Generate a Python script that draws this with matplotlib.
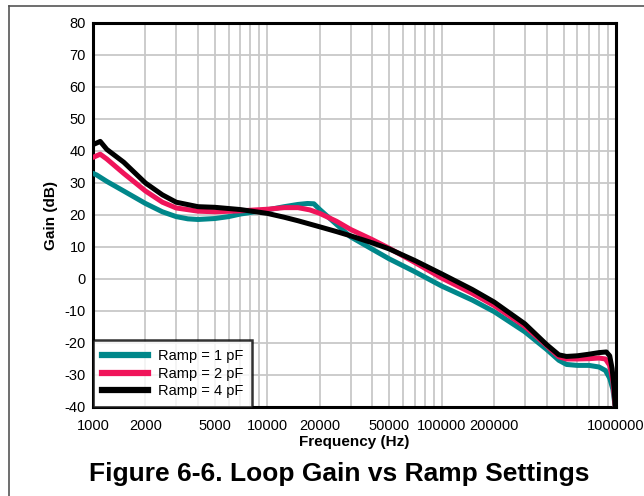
import matplotlib.pyplot as plt
from matplotlib.lines import Line2D

plt.rcParams["font.family"] = ["Liberation Sans", "DejaVu Sans"]
plt.rcParams["axes.unicode_minus"] = False

# measured loop gain, read at sample frequencies (Hz / dB)
freq_1pf = [1000, 1050, 1200, 1500, 2000, 2500, 3000, 3500, 4000, 5000, 6000, 7000,
            8500, 10000, 12500, 15000, 17000, 18500, 20000, 25000, 30000, 40000,
            50000, 70000, 100000, 150000, 200000, 300000, 400000, 470000, 520000,
            600000, 700000, 800000, 870000, 920000, 960000, 990000]
gain_1pf = [33.0, 32.5, 30.5, 27.5, 23.6, 21.0, 19.5, 18.8, 18.6, 18.9, 19.5, 20.3,
            21.0, 21.6, 22.6, 23.3, 23.6, 23.5, 21.7, 17.0, 13.2, 9.3,
            6.3, 2.3, -2.2, -6.6, -10.2, -16.5, -22.0, -25.4, -26.7,
            -27.0, -27.0, -27.5, -28.6, -31.0, -34.5, -40.0]

freq_2pf = [1000, 1100, 1200, 1500, 2000, 2500, 3000, 4000, 5000, 7000, 10000,
            12500, 15000, 17500, 20000, 25000, 30000, 40000, 50000, 70000, 100000,
            150000, 200000, 300000, 400000, 470000, 520000, 600000, 700000,
            800000, 870000, 920000, 960000, 990000]
gain_2pf = [38.0, 39.0, 37.5, 33.0, 27.5, 24.0, 22.2, 21.2, 21.0, 21.3, 21.8,
            22.3, 22.3, 21.6, 20.5, 18.0, 15.5, 12.3, 9.6, 5.2, 0.3,
            -4.5, -8.3, -14.8, -20.8, -24.3, -25.0, -25.0, -24.9,
            -24.7, -25.0, -27.0, -32.0, -40.0]

freq_4pf = [1000, 1050, 1100, 1200, 1500, 2000, 2500, 3000, 4000, 5000, 7000,
            10000, 12500, 15000, 20000, 25000, 30000, 40000, 50000, 70000, 100000,
            150000, 200000, 300000, 400000, 470000, 520000, 600000, 700000,
            800000, 880000, 920000, 950000, 975000, 990000]
gain_4pf = [42.0, 42.5, 43.0, 40.5, 36.5, 30.0, 26.3, 24.0, 22.6, 22.4, 21.7,
            20.5, 19.3, 18.2, 16.3, 14.8, 13.5, 11.3, 9.4, 5.8, 1.6,
            -3.3, -7.2, -14.0, -20.5, -23.7, -24.2, -24.0, -23.5,
            -23.0, -22.8, -24.0, -28.0, -34.0, -40.0]

x_ticks = [1000, 2000, 5000, 10000, 20000, 50000, 100000, 200000, 1000000]
y_ticks = list(range(-40, 81, 10))

series = [
    (freq_1pf, gain_1pf, "#00878a", "Ramp = 1 pF"),
    (freq_2pf, gain_2pf, "#f0145a", "Ramp = 2 pF"),
    (freq_4pf, gain_4pf, "#000000", "Ramp = 4 pF"),
]

fig = plt.figure(figsize=(6.44, 4.96), dpi=100)
ax = fig.add_axes([93 / 644, 1 - 407 / 496, (616 - 93) / 644, (407 - 23) / 496])

for f, g, c, lab in series:
    ax.plot(f, g, color=c, lw=3.6, solid_capstyle="round", solid_joinstyle="round",
            label=lab, zorder=3)

ax.set_xscale("log")
ax.set_xlim(1000, 1000000)
ax.set_ylim(-40, 80)
ax.set_xticks(x_ticks)
ax.set_xticklabels([str(t) for t in x_ticks])
ax.set_yticks(y_ticks)
ax.tick_params(axis="both", which="both", length=0, labelsize=10.5)
ax.tick_params(axis="x", pad=9)
ax.tick_params(axis="y", pad=5)
ax.grid(True, which="both", color="#c8c8c8", lw=1.3, zorder=0)
ax.set_axisbelow(True)
for s in ax.spines.values():
    s.set_linewidth(2.2)
    s.set_color("black")

ax.set_xlabel("Frequency (Hz)", fontsize=11, fontweight="bold", labelpad=1)
ax.set_ylabel("Gain (dB)", fontsize=11, fontweight="bold", labelpad=5)

handles = [Line2D([], [], color=c, lw=4.5) for _, _, c, _ in series]
leg = ax.legend(handles, [s[3] for s in series], loc="lower left", fontsize=10.5,
                frameon=True, fancybox=False, borderaxespad=0, handlelength=3.15,
                handletextpad=0.7, labelspacing=0.25, borderpad=0.6)
leg.get_frame().set_edgecolor("black")
leg.get_frame().set_linewidth(1.8)
leg.set_zorder(5)

fig.text(339 / 644, 1 - 474 / 496,
         "Figure 6-6. Loop Gain vs Ramp Settings",
         ha="center", va="center", fontsize=19, fontweight="bold")

# thin page border along the top and left edges
fig.add_artist(Line2D([8.5 / 644, 8.5 / 644], [0, 1 - 5.5 / 496],
                      color="#555555", lw=1.2, transform=fig.transFigure))
fig.add_artist(Line2D([8.5 / 644, 1], [1 - 5.5 / 496, 1 - 5.5 / 496],
                      color="#555555", lw=1.2, transform=fig.transFigure))

fig.savefig("out.png", dpi=100)
